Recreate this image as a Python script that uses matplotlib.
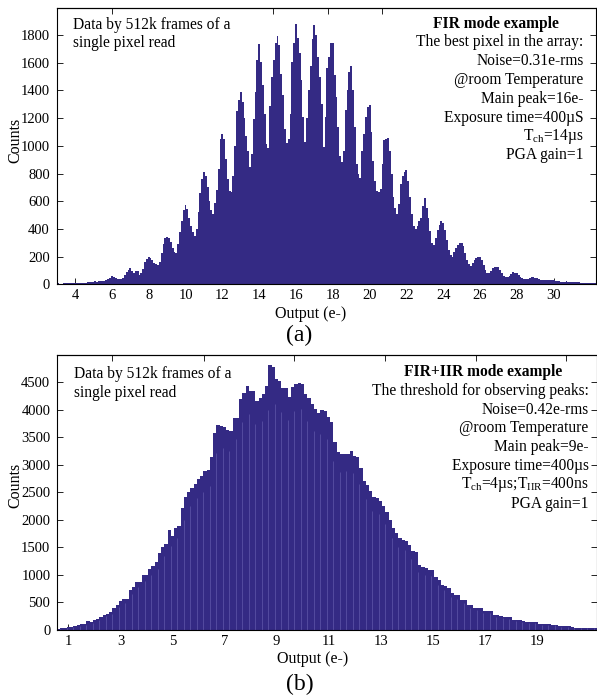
import numpy as np
import matplotlib.pyplot as plt

plt.rcParams['font.family'] = ['Liberation Serif', 'DejaVu Serif']
plt.rcParams['mathtext.fontset'] = 'custom'
plt.rcParams['mathtext.rm'] = 'Liberation Serif'
plt.rcParams['mathtext.it'] = 'Liberation Serif:italic'

BAR = '#342a84'
SEAM = '#6a63b4'

# (a) FIR mode: counts in 0.1 e- bins, one row per electron n (bins n-0.5 ... n+0.4)
electrons_a = list(range(3, 33))
counts_a = [
    [6, 6, 5, 6, 7, 6, 8, 7, 7, 8],                          # 3
    [8, 9, 8, 10, 11, 12, 11, 12, 10, 12],                   # 4
    [12, 14, 16, 15, 18, 20, 22, 19, 24, 22],                # 5
    [26, 28, 30, 38, 48, 58, 55, 45, 40, 38],                # 6
    [38, 45, 70, 92, 105, 116, 95, 82, 100, 96],             # 7
    [68, 85, 110, 160, 185, 196, 192, 178, 155, 145],        # 8
    [140, 165, 230, 290, 335, 342, 335, 305, 262, 235],      # 9
    [228, 290, 380, 460, 540, 577, 545, 480, 420, 380],      # 10
    [351, 400, 520, 660, 760, 814, 780, 700, 600, 540],      # 11
    [509, 590, 680, 830, 1050, 1086, 1050, 905, 760, 673],   # 12
    [666, 780, 1000, 1250, 1330, 1390, 1320, 1200, 1075, 960],      # 13
    [850, 940, 1195, 1390, 1620, 1733, 1608, 1437, 1232, 1014],     # 14
    [983, 1290, 1500, 1620, 1740, 1794, 1730, 1520, 1370, 1120],    # 15
    [1022, 1050, 1232, 1607, 1740, 1881, 1777, 1667, 1474, 1207],   # 16
    [1027, 1200, 1400, 1580, 1770, 1874, 1800, 1640, 1500, 1300],   # 17
    [990, 1208, 1560, 1640, 1740, 1745, 1510, 1355, 1136, 930],     # 18
    [882, 966, 1256, 1400, 1535, 1576, 1400, 1136, 870, 797],       # 19
    [768, 966, 1087, 1208, 1280, 1293, 1100, 893, 750, 676],        # 20
    [669, 688, 870, 1039, 1050, 1056, 966, 800, 628, 555],          # 21
    [512, 580, 725, 786, 810, 829, 750, 628, 507, 423],             # 22
    [398, 424, 456, 480, 565, 625, 553, 480, 383, 299],             # 23
    [287, 335, 395, 432, 456, 444, 395, 323, 250, 214],             # 24
    [202, 231, 263, 287, 299, 303, 275, 226, 178, 149],             # 25
    [134, 154, 178, 190, 197, 197, 178, 142, 105, 86],              # 26
    [81, 100, 117, 129, 129, 124, 105, 81, 62, 52],                 # 27
    [52, 62, 77, 88, 81, 86, 69, 57, 45, 37],                       # 28
    [37, 40, 45, 52, 54, 50, 45, 40, 35, 32],                       # 29
    [30, 32, 34, 34, 32, 30, 28, 25, 22, 20],                       # 30
    [20, 20, 22, 20, 18, 18, 16, 16, 15, 15],                       # 31
    [14, 14, 13, 13, 12, 12, 12, 12, 12, 12],                       # 32
]

# (b) FIR+IIR mode: counts in 0.125 e- bins, one row per electron n (bins n-0.5 ... n+0.375)
electrons_b = list(range(1, 22))
counts_b = [
    [20, 24, 30, 45, 55, 62, 73, 90],                    # 1
    [100, 110, 164, 150, 185, 207, 240, 280],            # 2
    [298, 320, 400, 460, 520, 554, 570, 720],            # 3
    [785, 870, 880, 995, 1000, 1100, 1170, 1240],        # 4
    [1400, 1500, 1560, 1820, 1700, 1850, 1880, 2210],    # 5
    [2420, 2510, 2580, 2660, 2750, 2790, 2880, 2910],    # 6
    [3150, 3580, 3720, 3700, 3680, 3640, 3620, 3850],    # 7
    [3857, 4200, 4310, 4430, 4350, 4340, 4160, 4220],    # 8
    [4290, 4430, 4820, 4770, 4560, 4530, 4390, 4400],    # 9
    [4240, 4420, 4470, 4480, 4470, 4290, 4210, 4100],    # 10
    [4010, 3950, 3990, 3970, 3860, 3770, 3420, 3240],    # 11
    [3190, 3200, 3200, 3250, 3160, 3140, 2940, 2710],    # 12
    [2640, 2520, 2410, 2400, 2340, 2250, 2140, 2000],    # 13
    [1850, 1760, 1680, 1640, 1610, 1550, 1430, 1424],    # 14
    [1180, 1150, 1120, 1090, 1090, 970, 908, 816],       # 15
    [800, 755, 664, 633, 633, 542, 542, 450],            # 16
    [450, 408, 408, 400, 347, 347, 340, 268],            # 17
    [268, 260, 238, 238, 230, 177, 177, 175],            # 18
    [170, 146, 146, 140, 140, 104, 104, 100],            # 19
    [104, 98, 95, 67, 67, 65, 67, 60],                   # 20
    [43, 45, 42, 40, 43, 41, 38, 40],                    # 21
]

xticks_a = list(range(4, 31, 2))
yticks_a = list(range(0, 1801, 200))
xticks_b = list(range(1, 20, 2))
yticks_b = list(range(0, 4501, 500))

text_a = ['The best pixel in the array:', 'Noise=0.31e-rms', '@room Temperature',
          'Main peak=16e-', 'Exposure time=400µS', r'T$_\mathrm{ch}$=14µs', 'PGA gain=1']
text_b = ['The threshold for observing peaks:', 'Noise=0.42e-rms', '@room Temperature',
          'Main peak=9e-', 'Exposure time=400µs',
          r'T$_\mathrm{ch}$=4µs;T$_\mathrm{IIR}$=400ns', 'PGA gain=1']

W, H = 597, 695
fig = plt.figure(figsize=(W / 100, H / 100), dpi=100)


def px(x, y):
    return x / W, 1 - y / H


ax1 = fig.add_axes([56.7 / W, 1 - 284.5 / H, (596 - 56.7) / W, (284.5 - 8) / H])
ax2 = fig.add_axes([57.3 / W, 1 - 630 / H, (596.5 - 57.3) / W, (630 - 355) / H])

# panel (a) as one filled step outline
xa = np.concatenate([n + np.arange(-5, 5) * 0.1 for n in electrons_a])
ya = np.concatenate(counts_a)
edges_a = np.append(xa - 0.05, xa[-1] + 0.05)
ax1.stairs(ya, edges_a, fill=True, color=BAR, lw=0)

# panel (b) as bars, plus faint light seams every 0.25 e- like the original render
xb = np.concatenate([n + np.arange(-4, 4) * 0.125 for n in electrons_b])
yb = np.concatenate(counts_b)
ax2.bar(xb, yb, width=0.125, color=BAR, linewidth=0)
seam_x = xb[1:-1:2] + 0.0625
seam_top = np.minimum(yb[1:-1:2], yb[2::2]) * 0.9
ax2.vlines(seam_x, 0, seam_top, color=SEAM, lw=0.5, alpha=0.8)

ax1.set_xlim(3.0, 32.3)
ax1.set_ylim(0, 1995)
ax2.set_xlim(0.57, 21.3)
ax2.set_ylim(0, 4995)

for ax, xt, yt in [(ax1, xticks_a, yticks_a), (ax2, xticks_b, yticks_b)]:
    ax.set_axisbelow(True)
    ax.set_xticks(xt)
    ax.set_yticks(yt)
    ax.tick_params(direction='in', length=4, width=0.6, labelsize=10.5, right=True)
    ax.tick_params(axis='x', pad=3.5)
    ax.tick_params(axis='y', pad=5)
    for s in ax.spines.values():
        s.set_linewidth(0.8)
    ax.set_ylabel('Counts', fontsize=11.5)
    ax.set_xlabel('Output (e-)', fontsize=11.5)

ax1.xaxis.set_label_coords(0.4715, -0.076)
ax2.xaxis.set_label_coords(0.474, -0.077)
ax1.yaxis.set_label_coords(-0.062, 0.523)
ax2.yaxis.set_label_coords(-0.063, 0.527)

# a few tick marks visible along the top frame
for ax, tt in [(ax1, [6.0, 14.77, 17.76, 20.7]),
               (ax2, [2.69, 6.21, 9.68, 13.16, 16.68, 20.13])]:
    top = ax.secondary_xaxis('top')
    top.set_xticks(tt)
    top.set_xticklabels([])
    top.tick_params(direction='in', length=4, width=0.6)

fs = 11.2
fig.text(*px(72.7, 25), 'Data by 512k frames of a', fontsize=fs, va='center')
fig.text(*px(72.7, 43.3), 'single pixel read', fontsize=fs, va='center')
fig.text(*px(74, 374.3), 'Data by 512k frames of a', fontsize=fs, va='center')
fig.text(*px(74, 392.7), 'single pixel read', fontsize=fs, va='center')

fig.text(*px(496, 24), 'FIR mode example', fontsize=fs, fontweight='bold',
         ha='center', va='center')
for i, line in enumerate(text_a):
    fig.text(*px(583.7, 42.3 + i * 18.8), line, fontsize=fs, ha='right', va='center')

fig.text(*px(483, 372.3), 'FIR+IIR mode example', fontsize=fs, fontweight='bold',
         ha='center', va='center')
for i, line in enumerate(text_b):
    fig.text(*px(588.7, 390.7 + i * 18.8), line, fontsize=fs, ha='right', va='center')

fig.text(*px(299, 335), '(a)', fontsize=17, ha='center', va='center')
fig.text(*px(300, 684), '(b)', fontsize=17, ha='center', va='center')

fig.savefig('out.png', dpi=100)
